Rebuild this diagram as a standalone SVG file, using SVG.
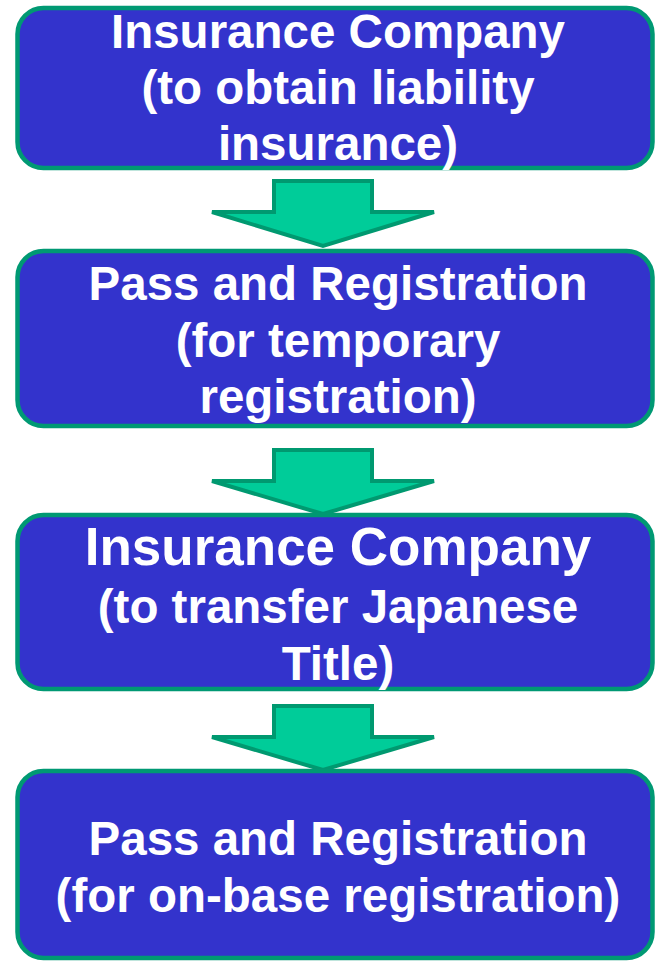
<svg xmlns="http://www.w3.org/2000/svg" width="656" height="962" viewBox="0 0 656 962">
<style>
.box{fill:#3333CC;stroke:#009973;stroke-width:4.5}
.arr{fill:#00CC99;stroke:#009970;stroke-width:4;stroke-linejoin:miter}
text{font-family:"Liberation Sans",Arial,sans-serif;font-weight:bold;fill:#FFFFFF;text-anchor:middle;font-size:47.5px}
.big{font-size:53px}
</style>
<rect width="656" height="962" fill="#FFFFFF"/>
<g id="connectors">
<polygon class="arr" points="274,181 372,181 372,212 434,212 323,246 212,212 274,212"/>
<polygon class="arr" points="274,450 372,450 372,481 434,481 323,514 212,481 274,481"/>
<polygon class="arr" points="274,706 372,706 372,737 434,737 323,770 212,737 274,737"/>
</g>
<g id="node1">
<rect class="box" x="17.5" y="8" width="635" height="160" rx="26"/>
<text x="338" y="48">Insurance Company</text>
<text x="338" y="104">(to obtain liability</text>
<text x="338" y="160">insurance)</text>
</g>
<g id="node2">
<rect class="box" x="17.5" y="251" width="635" height="175" rx="26"/>
<text x="338" y="300">Pass and Registration</text>
<text x="338" y="357">(for temporary</text>
<text x="338" y="413">registration)</text>
</g>
<g id="node3">
<rect class="box" x="17.5" y="515" width="635" height="174" rx="26"/>
<text class="big" x="338" y="565">Insurance Company</text>
<text x="338" y="623">(to transfer Japanese</text>
<text x="338" y="680">Title)</text>
</g>
<g id="node4">
<rect class="box" x="17.5" y="771" width="635" height="187" rx="26"/>
<text x="338" y="855">Pass and Registration</text>
<text x="338" y="912">(for on-base registration)</text>
</g>
</svg>
